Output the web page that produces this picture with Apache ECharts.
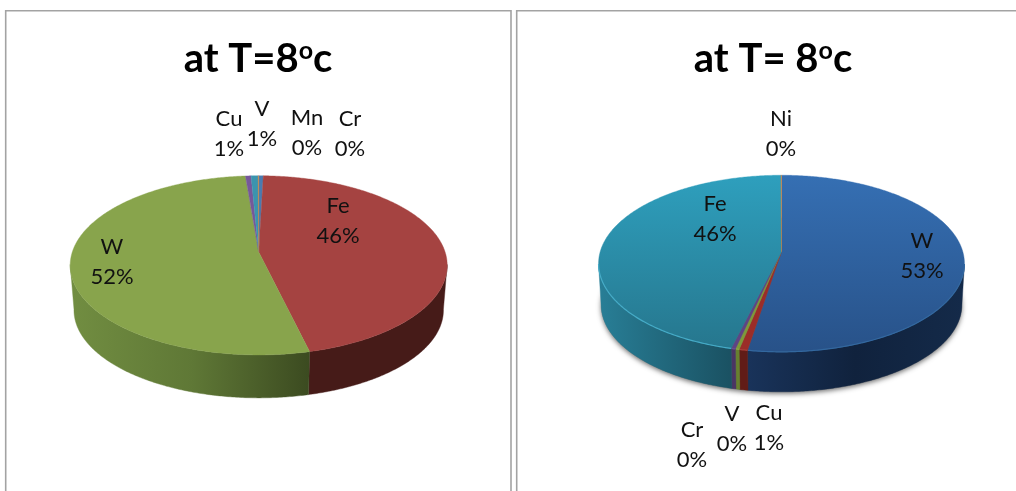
<!DOCTYPE html>
<html>
<head>
<meta charset="utf-8">
<style>html,body{margin:0;padding:0;background:#fff}#chart{width:1016px;height:491px}</style>
<script src="https://cdn.jsdelivr.net/npm/echarts@6/dist/echarts.min.js"></script>
</head>
<body>
<div id="chart"></div>
<script>
// Element shares for the two samples, in clockwise drawing order from 12 o'clock
const leftElements = ['Cr', 'Fe', 'W', 'Cu', 'V', 'Mn'];
const leftShares = [0.45, 45.8, 52.45, 0.55, 0.7, 0.05];
const rightElements = ['W', 'Cu', 'V', 'Cr', 'Fe', 'Ni'];
const rightShares = [52.6, 0.65, 0.3, 0.33, 46.07, 0.05];

const FONT = 'Lato, "Noto Sans", sans-serif';
const grad = echarts.graphic.LinearGradient;
const vert = (y0, y1, a, b) => new grad(0, y0, 0, y1, [{offset: 0, color: a}, {offset: 1, color: b}], true);
const horiz = (x0, x1, stops) => new grad(x0, 0, x1, 0, stops.map((c, i) => ({offset: i / (stops.length - 1), color: c})), true);

// Projection and look of each disc: hub position, radii, foreshortening, and rim depth
const leftPie = {
  cx: 258.7, ay: 252, R: 186.4, H: 87.6, k: 0.149, depth: 45, shrink: 0.98, rimLight: false,
  top: {
    Cr: '#4a7bb0', Fe: '#a54341', W: '#88a44c', Cu: '#76589a', V: '#3b94ae', Mn: '#d9853a'
  },
  side: {
    Cr: '#2c4a6c', Fe: '#461b18', Cu: '#46345c', V: '#235a6a', Mn: '#80501f',
    W: horiz(73, 311, ['#718d41', '#5f7836', '#3b4a20'])
  },
  labels: {
    Fe: [338, 221], W: [112, 262], Cu: [229, 134], V: [262, 124], Mn: [307, 133], Cr: [350, 134]
  }
};
const rightPie = {
  cx: 781.5, ay: 251.7, R: 181.3, H: 86.7, k: 0.134, depth: 41.4, shrink: 0.986, rimLight: true, base: true,
  top: {
    W: vert(176, 350, '#356fb3', '#285289'), Cu: '#9b2d28', V: '#7d9a3a', Cr: '#5f4484',
    Fe: vert(176, 350, '#2e9fbd', '#26768d'), Ni: '#d9853a'
  },
  side: {
    W: horiz(748, 962, ['#19335a', '#10223d', '#142a49']), Cu: '#611c17', V: '#67802f', Cr: '#4a3563',
    Fe: horiz(600, 732, ['#287e96', '#1a5162']), Ni: '#80501f'
  },
  rim: {W: '#33689f', Cu: '#a8403a', V: '#8aa645', Cr: '#6d5192', Fe: '#45abc7', Ni: '#d9853a'},
  labels: {
    Ni: [781, 134], Fe: [715, 219], W: [922, 256], Cu: [769, 428], V: [732, 429], Cr: [692, 445]
  }
};

function project(p, theta, lowered) {
  const u = Math.sin(theta), v = -Math.cos(theta), w = 1 - p.k * v;
  let x = u * p.R / w, y = v * p.H / w, dy = 0;
  if (lowered) { x *= p.shrink; y *= p.shrink; dy = p.depth; }
  return [p.cx + x, p.ay + y + dy];
}

function arc(p, a0, a1, lowered) {
  const n = Math.max(2, Math.ceil((a1 - a0) / 0.01)), pts = [];
  for (let i = 0; i <= n; i++) pts.push(project(p, a0 + (a1 - a0) * i / n, lowered));
  return pts;
}

function pieSeries(p, names, shares) {
  const total = shares.reduce((a, b) => a + b, 0);
  // Only the front part of the rim faces the viewer
  const frontA = 98 * Math.PI / 180, frontB = 262 * Math.PI / 180;
  return {
    type: 'custom',
    coordinateSystem: 'none',
    silent: true,
    data: shares.map((s, i) => ({name: names[i], value: [s]})),
    renderItem(params, api) {
      const i = params.dataIndex, name = names[i];
      const before = shares.slice(0, i).reduce((a, b) => a + b, 0);
      const a0 = before / total * 2 * Math.PI;
      const a1 = (before + api.value(0)) / total * 2 * Math.PI;
      const children = [];
      if (p.base && i === 0) {
        children.push({
          type: 'polygon',
          shape: {points: arc(p, 0, 2 * Math.PI, true)},
          style: {fill: '#777', shadowBlur: 5, shadowColor: 'rgba(0,0,0,0.55)', shadowOffsetY: 2}
        });
      }
      const s0 = Math.max(a0, frontA), s1 = Math.min(a1, frontB);
      if (s1 > s0) {
        const pts = arc(p, s0, s1, false).concat(arc(p, s0, s1, true).reverse());
        children.push({
          type: 'polygon',
          shape: {points: pts},
          style: {fill: p.side[name], stroke: p.side[name], lineWidth: 0.4}
        });
      }
      const top = [[p.cx, p.ay]].concat(arc(p, a0, a1, false));
      children.push({
        type: 'polygon',
        shape: {points: top},
        style: {fill: p.top[name], stroke: p.top[name], lineWidth: 0.4}
      });
      if (p.rimLight && s1 > s0) {
        children.push({
          type: 'polyline',
          shape: {points: arc(p, s0, s1, false)},
          style: {fill: null, stroke: p.rim[name], lineWidth: 1.2}
        });
      }
      const pct = Math.round(api.value(0) / total * 100);
      const spot = p.labels[name];
      children.push({
        type: 'text',
        z2: 50,
        style: {
          text: name + '\n' + pct + '%',
          x: spot[0], y: spot[1],
          align: 'center', verticalAlign: 'middle',
          font: '22px ' + FONT, lineHeight: 30.5, fill: '#111'
        }
      });
      return {type: 'group', children};
    }
  };
}

function frameTitle(text, x) {
  return {
    text, left: x, top: 33, textAlign: 'center',
    textStyle: {
      fontFamily: FONT, fontWeight: 'bold', fontSize: 40, color: '#000',
      rich: {
        o: {fontFamily: FONT, fontWeight: 'bold', fontSize: 25, color: '#000', verticalAlign: 'top', padding: [0, 0, 18, 0]}
      }
    }
  };
}

const frameLine = {stroke: '#a3a3a3', fill: null, lineWidth: 1.6};
const chart = echarts.init(document.getElementById('chart'), null, {renderer: 'canvas'});
chart.setOption({
  animation: false,
  backgroundColor: '#fff',
  title: [frameTitle('at T=8{o|o}c', 253), frameTitle('at T= 8{o|o}c', 768)],
  graphic: [
    {type: 'rect', shape: {x: 5.7, y: 10.7, width: 505.3, height: 500}, style: frameLine, silent: true},
    {type: 'rect', shape: {x: 516.7, y: 10.7, width: 520, height: 500}, style: frameLine, silent: true}
  ],
  series: [pieSeries(leftPie, leftElements, leftShares), pieSeries(rightPie, rightElements, rightShares)]
});
</script>
</body>
</html>
